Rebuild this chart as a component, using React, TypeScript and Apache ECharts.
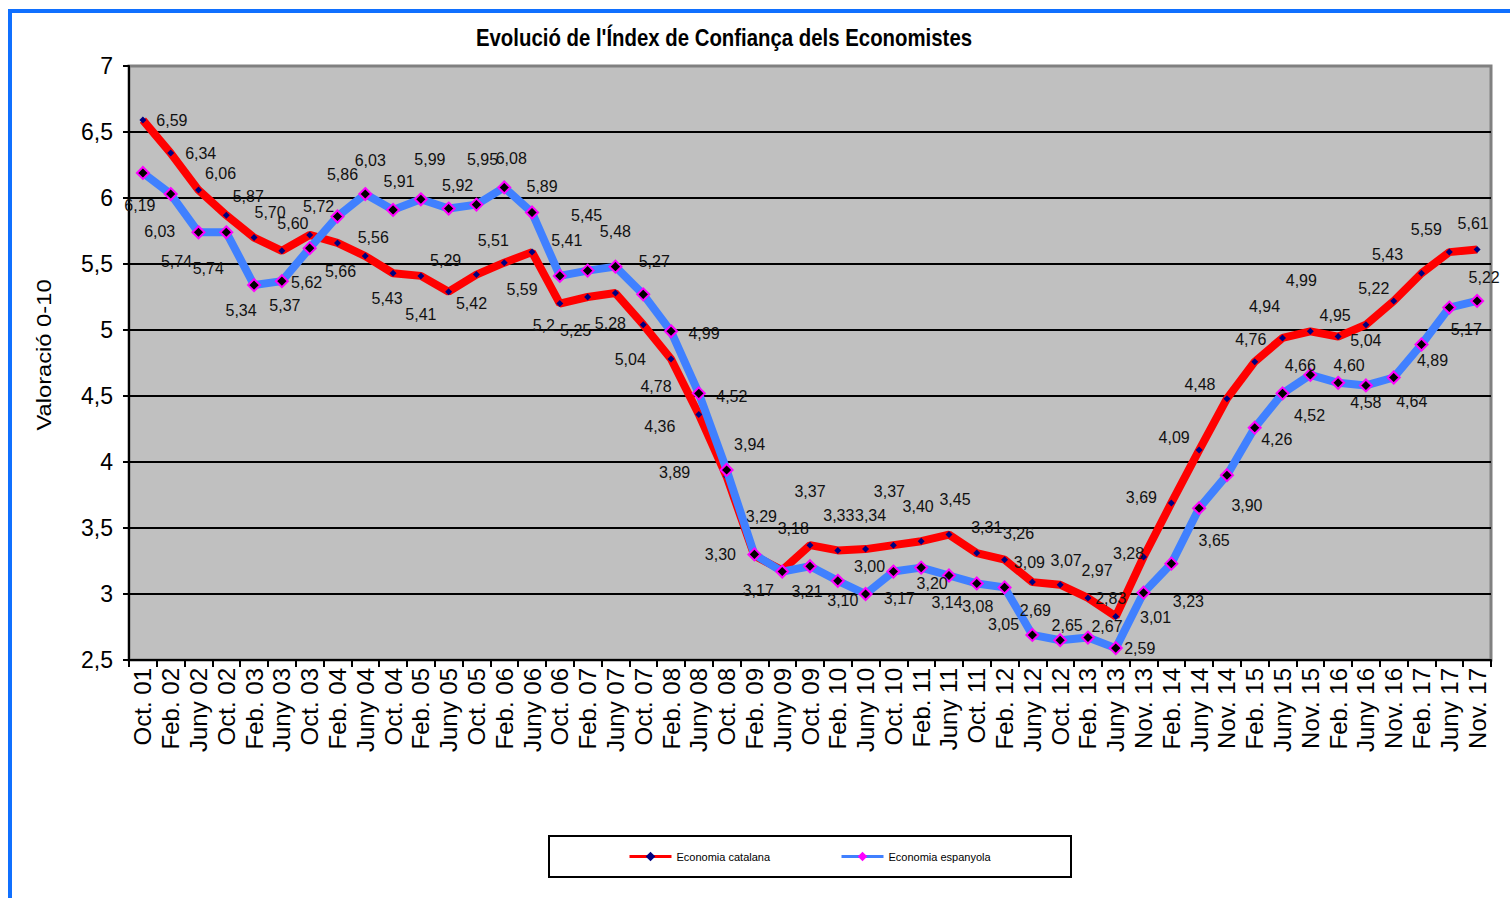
import React, { useEffect, useRef } from "react";
import * as echarts from "echarts";

const categories = [
  "Oct. 01", "Feb. 02", "Juny 02", "Oct. 02", "Feb. 03", "Juny 03", "Oct. 03", "Feb. 04", "Juny 04", "Oct. 04",
  "Feb. 05", "Juny 05", "Oct. 05", "Feb. 06", "Juny 06", "Oct. 06", "Feb. 07", "Juny 07", "Oct. 07", "Feb. 08",
  "Juny 08", "Oct. 08", "Feb. 09", "Juny 09", "Oct. 09", "Feb. 10", "Juny 10", "Oct. 10", "Feb. 11", "Juny 11",
  "Oct. 11", "Feb. 12", "Juny 12", "Oct. 12", "Feb. 13", "Juny 13", "Nov. 13", "Feb. 14", "Juny 14", "Nov. 14",
  "Feb. 15", "Juny 15", "Nov. 15", "Feb. 16", "Juny 16", "Nov. 16", "Feb. 17", "Juny 17", "Nov. 17",
];

// values as printed on the chart (Catalan decimal comma)
const catalana = [
  "6,59", "6,34", "6,06", "5,87", "5,70", "5,60", "5,72", "5,66", "5,56", "5,43",
  "5,41", "5,29", "5,42", "5,51", "5,59", "5,2", "5,25", "5,28", "5,04", "4,78",
  "4,36", "3,89", "3,29", "3,18", "3,37", "3,33", "3,34", "3,37", "3,40", "3,45",
  "3,31", "3,26", "3,09", "3,07", "2,97", "2,83", "3,28", "3,69", "4,09", "4,48",
  "4,76", "4,94", "4,99", "4,95", "5,04", "5,22", "5,43", "5,59", "5,61",
];

const espanyola = [
  "6,19", "6,03", "5,74", "5,74", "5,34", "5,37", "5,62", "5,86", "6,03", "5,91",
  "5,99", "5,92", "5,95", "6,08", "5,89", "5,41", "5,45", "5,48", "5,27", "4,99",
  "4,52", "3,94", "3,30", "3,17", "3,21", "3,10", "3,00", "3,17", "3,20", "3,14",
  "3,08", "3,05", "2,69", "2,65", "2,67", "2,59", "3,01", "3,23", "3,65", "3,90",
  "4,26", "4,52", "4,66", "4,60", "4,58", "4,64", "4,89", "5,17", "5,22",
];

const seriesNames = ["Economia catalana", "Economia espanyola"];
const yTicks = { min: 2.5, max: 7, interval: 0.5 };

// label nudges (pixels) to mimic the hand-placed labels of the original
const catalanaLabelOffsets = [
  [29, 0], [30, 0], [22, -17], [22, -19], [16, -25], [11, -27], [9, -28], [3, 29], [8, -19], [-6, 25],
  [0, 39], [-3, -31], [-5, 29], [-11, -22], [-10, 37], [-16, 22], [-12, 33], [-5, 30], [-13, 35], [-15, 27],
  [-39, 12], [-52, -4], [7, -39], [11, -42], [0, -54], [1, -35], [5, -34], [-4, -54], [-3, -35], [6, -35],
  [10, -26], [14, -26], [-3, -20], [6, -24], [9, -27], [-5, -18], [-15, -4], [-30, -5], [-25, -13], [-27, -14],
  [-4, -22], [-18, -31], [-9, -51], [-3, -21], [0, 16], [-20, -12], [-34, -19], [-23, -23], [-4, -26],
];
const espanyolaLabelOffsets = [
  [-3, 33], [-11, 37], [-22, 29], [-18, 36], [-13, 25], [3, 24], [-3, 34], [5, -42], [5, -34], [6, -28],
  [9, -40], [9, -23], [6, -45], [7, -29], [10, -26], [7, -35], [-1, -55], [0, -35], [11, -33], [33, 2],
  [33, 3], [23, -25], [-34, 0], [-24, 19], [-3, 25], [5, 20], [4, -28], [6, 27], [11, 16], [-2, 27],
  [1, 23], [-1, 37], [3, -24], [7, -15], [19, -11], [24, 0], [12, 25], [17, 38], [15, 32], [20, 30],
  [22, 12], [27, 22], [-10, -9], [11, -17], [0, 17], [18, 24], [11, 16], [17, 22], [7, -23],
];

const toNum = (s: string) => parseFloat(s.replace(",", "."));
const SANS = "'Liberation Sans', Arial, sans-serif";

function buildData(vals: string[], offs: number[][]) {
  return vals.map((s, i) => ({
    value: toNum(s),
    label: { show: true, position: "inside", offset: offs[i], formatter: s },
  }));
}

export default function App() {
  const ref = useRef<HTMLDivElement>(null);

  useEffect(() => {
    if (!ref.current) return;
    const chart = echarts.init(ref.current, undefined, { renderer: "svg" });
    const labelStyle = { color: "#111", fontSize: 16, fontFamily: SANS };
    const legendCommon = {
      top: 851,
      z: 10,
      padding: 0,
      itemWidth: 42,
      itemHeight: 12,
      lineStyle: { width: 3 },
      textStyle: { fontSize: 11, fontFamily: SANS, color: "#000" },
    };
    chart.setOption({
      animation: false,
      backgroundColor: "#ffffff",
      grid: {
        left: 129,
        right: 19,
        top: 66,
        bottom: 238,
        show: true,
        backgroundColor: "#c0c0c0",
        borderColor: "#808080",
        borderWidth: 3,
      },
      graphic: [
        {
          type: "rect",
          shape: { x: 10, y: 11, width: 1600, height: 1000 },
          style: { fill: "none", stroke: "#1070ff", lineWidth: 4 },
          silent: true,
        },
        {
          type: "text",
          x: 724,
          y: 38,
          scaleX: 0.886,
          style: {
            text: "Evolució de l'Índex de Confiança dels Economistes",
            fill: "#000",
            font: `bold 23px ${SANS}`,
            align: "center",
            verticalAlign: "middle",
          },
        },
        {
          type: "text",
          x: 44,
          y: 355,
          rotation: Math.PI / 2,
          scaleX: 1.13,
          style: {
            text: "Valoració 0-10",
            fill: "#000",
            font: `21px ${SANS}`,
            align: "center",
            verticalAlign: "middle",
          },
        },
        {
          type: "rect",
          z: 0,
          shape: { x: 549, y: 836, width: 522, height: 41 },
          style: { fill: "#fff", stroke: "#000", lineWidth: 2 },
        },
      ],
      legend: [
        {
          ...legendCommon,
          left: 628,
          data: [{ name: seriesNames[0], itemStyle: { color: "#000080", borderWidth: 0 } }],
        },
        {
          ...legendCommon,
          left: 840,
          data: [{ name: seriesNames[1], itemStyle: { color: "#ff00ff", borderWidth: 0 } }],
        },
      ],
      xAxis: {
        type: "category",
        data: categories,
        boundaryGap: true,
        axisLine: { lineStyle: { color: "#000", width: 2 } },
        axisTick: { show: true, interval: 0, length: 7, lineStyle: { color: "#000", width: 2 } },
        axisLabel: {
          interval: 0,
          rotate: 90,
          margin: 8,
          color: "#000",
          fontSize: 24,
          fontFamily: SANS,
        },
        splitLine: { show: false },
      },
      yAxis: {
        type: "value",
        min: yTicks.min,
        max: yTicks.max,
        interval: yTicks.interval,
        axisLine: { show: true, lineStyle: { color: "#000", width: 2 } },
        axisTick: { show: true, length: 6, lineStyle: { color: "#000", width: 2 } },
        axisLabel: {
          margin: 16,
          color: "#000",
          fontSize: 23,
          fontFamily: SANS,
          formatter: (v: number) => String(v).replace(".", ","),
        },
        splitLine: { show: true, showMaxLine: false, lineStyle: { color: "#000", width: 2 } },
      },
      series: [
        {
          name: seriesNames[0],
          type: "line",
          data: buildData(catalana, catalanaLabelOffsets),
          symbol: "diamond",
          symbolSize: 7,
          showAllSymbol: true,
          lineStyle: { color: "#ff0000", width: 8 },
          itemStyle: { color: "#000080", borderWidth: 0 },
          label: labelStyle,
          z: 2,
        },
        {
          name: seriesNames[1],
          type: "line",
          data: buildData(espanyola, espanyolaLabelOffsets),
          symbol: "diamond",
          symbolSize: 12,
          showAllSymbol: true,
          lineStyle: { color: "#4080ff", width: 8 },
          itemStyle: { color: "#000000", borderColor: "#ff00ff", borderWidth: 2 },
          label: labelStyle,
          z: 3,
        },
      ],
    });
    return () => chart.dispose();
  }, []);

  return (
    <div
      ref={ref}
      style={{ position: "fixed", left: 0, top: 0, width: 1510, height: 898 }}
    />
  );
}
